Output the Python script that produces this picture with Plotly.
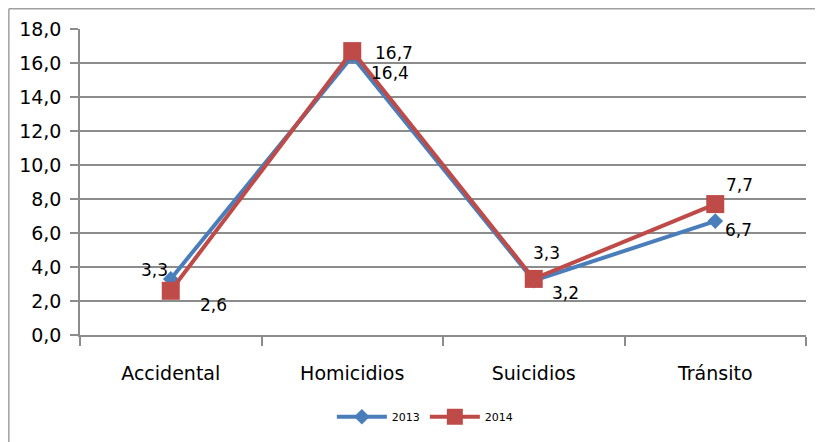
import plotly.graph_objects as go

categories = ["Accidental", "Homicidios", "Suicidios", "Tránsito"]
series_names = ["2013", "2014"]
values_2013 = [3.3, 16.4, 3.2, 6.7]
values_2014 = [2.6, 16.7, 3.3, 7.7]
y_ticks = [0, 2, 4, 6, 8, 10, 12, 14, 16, 18]

blue = "#4A7EBB"
red = "#BE4B48"
grid = "#8C8C8C"
font = "DejaVu Sans"

x = list(range(len(categories)))

fig = go.Figure()
fig.add_trace(go.Scatter(
    x=x, y=values_2013, name=series_names[0], mode="lines+markers",
    line=dict(color=blue, width=4),
    marker=dict(symbol="diamond", size=12, color=blue),
))
fig.add_trace(go.Scatter(
    x=x, y=values_2014, name=series_names[1], mode="lines+markers",
    line=dict(color=red, width=4),
    marker=dict(symbol="square", size=18, color=red),
))

# label offsets (pixels) per point
off_2013 = [(-16, 9), (38, -17), (32, -12), (23, -9)]
off_2014 = [(43, -14), (42, -2), (13, 26), (24, 19)]
for vals, offs in ((values_2013, off_2013), (values_2014, off_2014)):
    for xi, v, (dx, dy) in zip(x, vals, offs):
        fig.add_annotation(
            x=xi, y=v, xref="x", yref="y", text=f"{v:.1f}".replace(".", ","),
            showarrow=False, xshift=dx, yshift=dy,
            font=dict(family=font, size=17, color="#000000"),
        )

# outer chart border (top and left visible)
fig.add_shape(type="line", xref="paper", yref="paper",
              x0=-0.098, x1=1.05, y0=1.066, y1=1.066,
              line=dict(color="#A0A0A0", width=1.5))
fig.add_shape(type="line", xref="paper", yref="paper",
              x0=-0.098, x1=-0.098, y0=-0.4, y1=1.066,
              line=dict(color="#A0A0A0", width=1.5))

fig.update_layout(
    width=815, height=434,
    margin=dict(l=72, r=17, t=21, b=107, autoexpand=False),
    paper_bgcolor="white", plot_bgcolor="white",
    separators=",.",
    font=dict(family=font, size=17, color="#000000"),
    showlegend=True,
    legend=dict(orientation="h", x=0.475, xanchor="center", y=-0.22, yanchor="top",
                font=dict(family=font, size=11), itemwidth=50),
)
fig.update_xaxes(
    range=[-0.5, 3.5], tickmode="array", tickvals=x, ticktext=categories,
    showgrid=False, zeroline=False, automargin=False,
    showline=True, linecolor=grid, linewidth=1.5,
    ticks="outside", ticklen=20, tickcolor="rgba(0,0,0,0)",
    tickfont=dict(family=font, size=19),
    minor=dict(tickmode="array", tickvals=[-0.5, 0.5, 1.5, 2.5, 3.5],
               ticks="outside", ticklen=9, tickcolor=grid, tickwidth=1.5, showgrid=False),
)
fig.update_yaxes(
    range=[0, 18], tickmode="array", tickvals=y_ticks, tickformat=".1f",
    showgrid=True, gridcolor=grid, gridwidth=1.5, zeroline=False, automargin=False,
    showline=True, linecolor=grid, linewidth=1.5,
    ticks="outside", ticklen=8, tickcolor=grid, tickwidth=1.5,
    ticklabelstandoff=5,
    tickfont=dict(family=font, size=19),
)

fig.write_html("out.html")
